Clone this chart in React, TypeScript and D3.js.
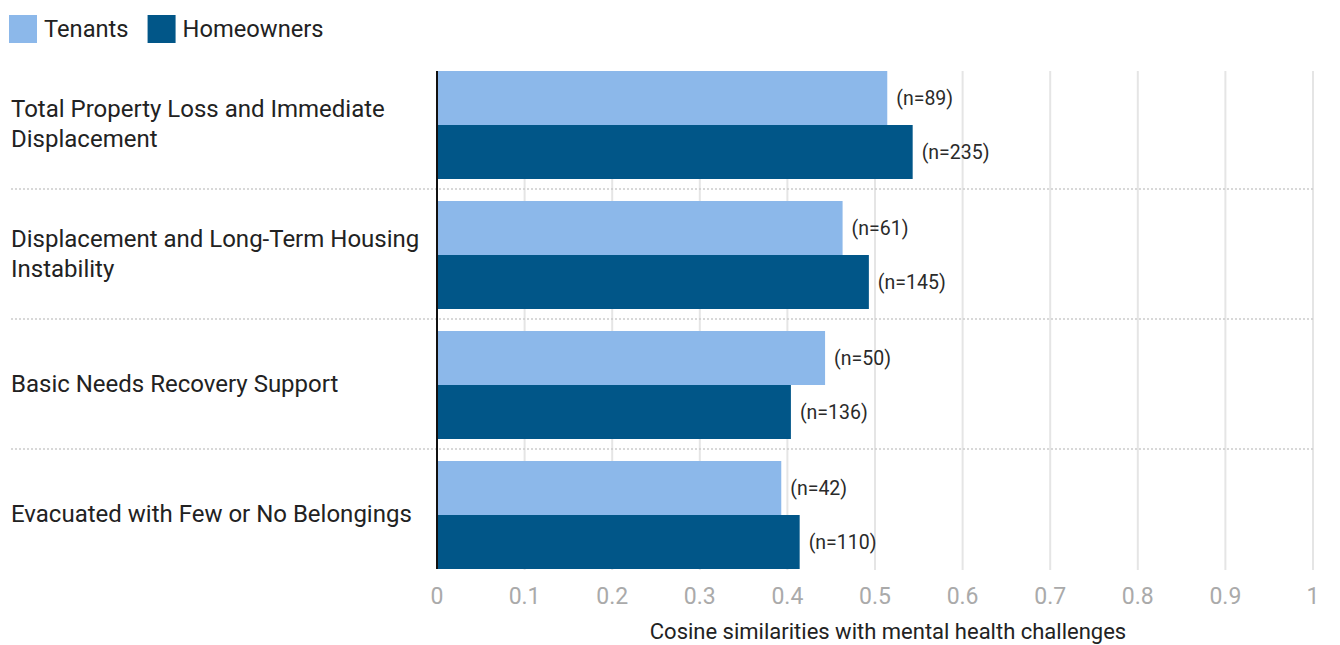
import { useEffect, useRef } from "react"
import * as d3 from "d3"

const categories = [
  ["Total Property Loss and Immediate", "Displacement"],
  ["Displacement and Long-Term Housing", "Instability"],
  ["Basic Needs Recovery Support"],
  ["Evacuated with Few or No Belongings"],
]
const seriesNames = ["Tenants", "Homeowners"]
const tenantValues = [0.514, 0.463, 0.443, 0.393]
const homeownerValues = [0.543, 0.493, 0.404, 0.414]
const tenantCounts = [89, 61, 50, 42]
const homeownerCounts = [235, 145, 136, 110]
const xTicks = [0, 0.1, 0.2, 0.3, 0.4, 0.5, 0.6, 0.7, 0.8, 0.9, 1]

const colors = ["#8cb8ea", "#015688"]
const font = "Roboto, 'Noto Sans', sans-serif"

export default function App() {
  const svgRef = useRef<SVGSVGElement>(null)

  useEffect(() => {
    if (!svgRef.current) return
    const svg = d3.select(svgRef.current)
    svg.selectAll("*").remove()

    const width = 1340
    const top = 60
    const bottom = 580
    const left = 437
    const right = 1313

    const x = d3.scaleLinear().domain([0, 1]).range([left, right])
    const keys = categories.map((c) => c.join(" "))
    const y = d3.scaleBand().domain(keys).range([top, bottom]).padding(0)
    const inner = d3
      .scaleBand()
      .domain(seriesNames)
      .range([11, y.bandwidth() - 11])

    const data = keys.map((k, i) => ({
      key: k,
      lines: categories[i],
      values: [
        { name: "Tenants", value: tenantValues[i], n: tenantCounts[i] },
        { name: "Homeowners", value: homeownerValues[i], n: homeownerCounts[i] },
      ],
    }))

    // legend
    const legend = svg.append("g")
    let lx = 9
    seriesNames.forEach((name, i) => {
      legend.append("rect").attr("x", lx).attr("y", 15).attr("width", 28).attr("height", 28).attr("fill", colors[i])
      const t = legend
        .append("text")
        .attr("x", lx + 35)
        .attr("y", 37)
        .text(name)
        .style("font-family", font)
        .style("font-size", "23.7px")
        .attr("fill", "#222")
      lx += 35 + (t.node() as SVGTextElement).getComputedTextLength() + 19
    })

    // gridlines
    svg
      .append("g")
      .selectAll("line")
      .data(xTicks.slice(1))
      .enter()
      .append("line")
      .attr("x1", (d) => x(d))
      .attr("x2", (d) => x(d))
      .attr("y1", top + 11)
      .attr("y2", bottom - 10)
      .attr("stroke", "#e5e5e5")
      .attr("stroke-width", 2)

    // group separators
    svg
      .append("g")
      .selectAll("line")
      .data(keys.slice(1))
      .enter()
      .append("line")
      .attr("x1", 11)
      .attr("x2", right)
      .attr("y1", (d) => (y(d) as number) - 1)
      .attr("y2", (d) => (y(d) as number) - 1)
      .attr("stroke", "#cccccc")
      .attr("stroke-width", 1.5)
      .attr("stroke-dasharray", "2,2")

    // bars
    const groups = svg
      .append("g")
      .selectAll("g")
      .data(data)
      .enter()
      .append("g")
      .attr("transform", (d) => `translate(0,${y(d.key)})`)

    groups
      .selectAll("rect")
      .data((d) => d.values)
      .enter()
      .append("rect")
      .attr("x", x(0))
      .attr("y", (d) => inner(d.name) as number)
      .attr("width", (d) => x(d.value) - x(0))
      .attr("height", inner.bandwidth())
      .attr("fill", (d, i) => colors[i])

    groups
      .selectAll("text.n")
      .data((d) => d.values)
      .enter()
      .append("text")
      .attr("class", "n")
      .attr("x", (d) => x(d.value) + 9)
      .attr("y", (d) => (inner(d.name) as number) + inner.bandwidth() / 2)
      .attr("dy", "0.35em")
      .text((d) => `(n=${d.n})`)
      .style("font-family", font)
      .style("font-size", "19.5px")
      .attr("fill", "#2a2a2a")

    // category labels
    groups.each(function (d) {
      const g = d3.select(this)
      const lh = 30
      const start = y.bandwidth() / 2 - ((d.lines.length - 1) * lh) / 2
      d.lines.forEach((line, j) => {
        g.append("text")
          .attr("x", 11)
          .attr("y", start + j * lh - 1)
          .attr("dy", "0.35em")
          .text(line)
          .style("font-family", font)
          .style("font-size", "24px")
          .attr("fill", "#222")
      })
    })

    // axis line
    svg
      .append("line")
      .attr("x1", x(0))
      .attr("x2", x(0))
      .attr("y1", top + 11)
      .attr("y2", bottom - 11)
      .attr("stroke", "#111")
      .attr("stroke-width", 2)

    // tick labels
    svg
      .append("g")
      .selectAll("text")
      .data(xTicks)
      .enter()
      .append("text")
      .attr("x", (d) => x(d))
      .attr("y", 604)
      .attr("text-anchor", "middle")
      .text((d) => d3.format("~g")(d))
      .style("font-family", font)
      .style("font-size", "23px")
      .attr("fill", "#aaaaaa")

    svg
      .append("text")
      .attr("x", 888)
      .attr("y", 639)
      .attr("text-anchor", "middle")
      .text("Cosine similarities with mental health challenges")
      .style("font-family", font)
      .style("font-size", "22px")
      .attr("fill", "#222")

    svg.attr("viewBox", `0 0 ${width} 645`)
  }, [])

  return (
    <div style={{ position: "absolute", left: 0, top: 0, background: "#fff" }}>
      <svg ref={svgRef} width={1340} height={645} style={{ display: "block" }}></svg>
    </div>
  )
}
